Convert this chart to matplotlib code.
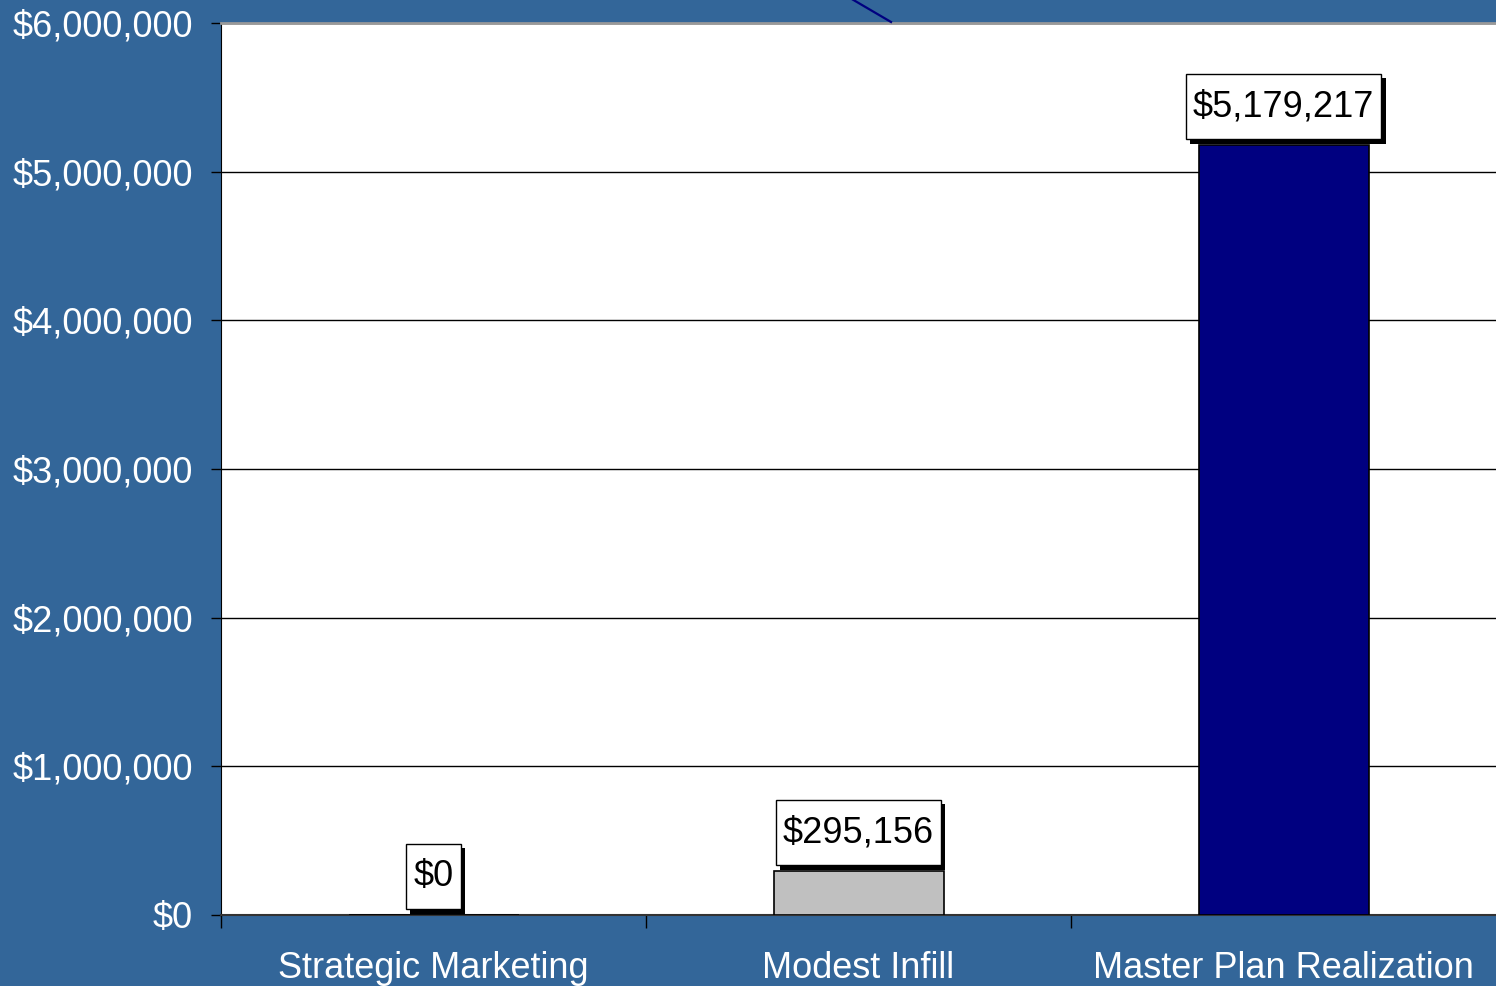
import matplotlib
matplotlib.use("Agg")
import matplotlib.pyplot as plt
from matplotlib.lines import Line2D
from matplotlib.path import Path
from matplotlib.ticker import FuncFormatter, FixedLocator
import matplotlib.patheffects as pe

plt.rcParams['font.family'] = ['Liberation Sans', 'DejaVu Sans']

categories = ["Strategic Marketing", "Modest Infill", "Master Plan Realization"]
values = [0, 295156, 5179217]
bar_colors = ["#9999FF", "#C0C0C0", "#000080"]
y_ticks = [0, 1000000, 2000000, 3000000, 4000000, 5000000, 6000000]

BG = "#336699"
FS = 26.0

fig = plt.figure(figsize=(14.96, 9.86), dpi=100, facecolor=BG)
ax = fig.add_axes([221 / 1496, 71 / 986, 1 - 221 / 1496, 892 / 986])
ax.set_facecolor("white")

x = list(range(len(categories)))
ax.bar(x, values, width=0.4, color=bar_colors, edgecolor="black", linewidth=1.2, zorder=3)

ax.set_xlim(-0.5, 2.5)
ax.set_ylim(0, 6000000)
ax.set_yticks(y_ticks)
ax.yaxis.set_major_formatter(FuncFormatter(lambda v, p: f"${v:,.0f}"))
ax.grid(axis="y", color="black", linewidth=1.0, zorder=1)
ax.set_axisbelow(True)

ax.set_xticks(x)
ax.set_xticklabels(categories)
ax.xaxis.set_minor_locator(FixedLocator([-0.5, 0.5, 1.5]))
ax.tick_params(axis="x", which="major", length=0, pad=26, labelsize=FS, labelcolor="white")
ax.tick_params(axis="x", which="minor", length=9, width=1, color="black", direction="out")
ax.tick_params(axis="y", which="major", length=7, width=1, color="black", direction="out",
               pad=13, labelsize=FS, labelcolor="white")

ax.spines["right"].set_visible(False)
ax.spines["top"].set_color("#999999")
ax.spines["top"].set_linewidth(2)
ax.spines["left"].set_color("black")
ax.spines["bottom"].set_color("#333333")
ax.spines["bottom"].set_linewidth(1.5)


def label_box(x0, y0, width, height, mutation_size):
    """Rectangle with a little more room above and below the text than at the sides."""
    px = 0.2 * mutation_size
    py = 0.42 * mutation_size
    x1, y1 = x0 - px, y0 - py
    x2, y2 = x0 + width + px, y0 + height + py
    return Path([(x1, y1), (x2, y1), (x2, y2), (x1, y2), (x1, y1)], closed=True)


# value labels in boxes with a drop shadow
for xi, v in zip(x, values):
    t = ax.annotate(f"${v:,.0f}", xy=(xi, v), xytext=(0, 15), textcoords="offset points",
                    ha="center", va="bottom", fontsize=FS, color="black", zorder=6,
                    bbox=dict(boxstyle=label_box, fc="white", ec="black", lw=1))
    t.get_bbox_patch().set_path_effects([
        pe.SimplePatchShadow(offset=(3, -3), shadow_rgbFace="black", alpha=1.0),
        pe.Normal(),
    ])

# connector line running off the top of the figure
fig.add_artist(Line2D([0.566, 0.5956], [1.004, 0.9777], transform=fig.transFigure,
                      color="#000080", linewidth=1.6))

fig.savefig("out.png", dpi=100, facecolor=BG)
